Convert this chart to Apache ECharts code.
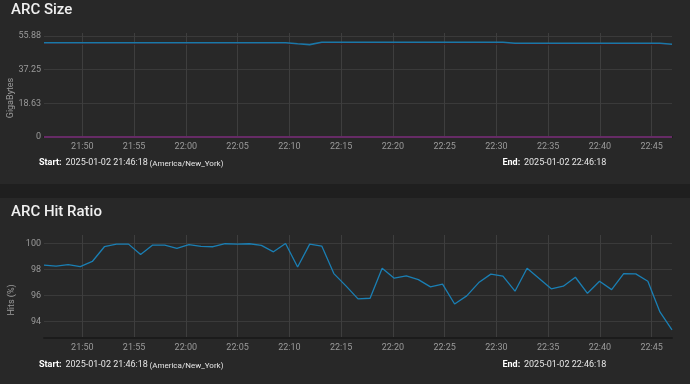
<!DOCTYPE html>
<html><head><meta charset="utf-8">
<script src="https://cdn.jsdelivr.net/npm/echarts@6/dist/echarts.min.js"></script>
<style>html,body{margin:0;padding:0;background:#1f1f1f;}#c{width:690px;height:384px;}</style>
</head><body><div id="c"></div>
<script>
// ---- data ----
const startTime = new Date(2025, 0, 2, 21, 46, 18).getTime();
const stepMs = 70000; // sample spacing
const hitRatio = [98.34,98.26,98.38,98.23,98.62,99.75,99.95,99.95,99.15,99.88,99.88,99.62,99.92,99.77,99.75,99.98,99.95,99.98,
  99.85,99.36,100.0,98.2,99.95,99.8,97.69,96.75,95.75,95.8,98.1,97.34,97.52,97.23,96.67,96.88,95.36,95.98,
  97.0,97.65,97.49,96.34,98.1,97.31,96.52,96.72,97.41,96.18,97.1,96.46,97.69,97.67,97.1,94.75,93.38];
const arcSize = [52.15,52.15,52.15,52.15,52.15,52.15,52.15,52.15,52.15,52.15,52.15,52.15,52.15,52.15,52.15,52.15,52.15,52.15,52.15,52.15,52.15,
  51.6,51.1,52.4,52.4,52.4,52.4,52.4,52.4,52.4,52.4,52.4,52.4,52.4,52.4,52.4,52.4,52.4,52.4,
  51.85,51.85,51.85,51.85,51.85,51.85,51.85,51.85,51.85,51.85,51.85,51.85,51.85,51.3];
const arcTarget = [51.35,51.35,51.35,51.35,51.35,51.35,51.35,51.35,51.35,51.35,51.35,51.35,51.35,51.35,51.35,51.35,51.35,51.35,51.35,51.35,51.35,
  51.35,51.35,51.35,51.35,51.35,51.35,51.35,51.35,51.35,51.35,51.35,51.35,51.35,51.35,51.35,51.35,51.35,51.35,
  51.1,51.1,51.1,51.1,51.1,51.1,51.1,51.1,51.1,51.1,51.1,51.1,51.1,51.1];
const l2Size = [0,0,0,0,0,0,0,0,0,0,0,0,0,0,0,0,0,0,0,0,0,0,0,0,0,0,0,0,0,0,0,0,0,0,0,0,0,0,0,0,0,0,0,0,0,0,0,0,0,0,0,0,0];
const timeTickLabels = ['21:50','21:55','22:00','22:05','22:10','22:15','22:20','22:25','22:30','22:35','22:40','22:45'];
const sizeTicks = [0, 18.63, 37.25, 55.88];
const hitTicks = [94, 96, 98, 100];
const startLabel = '2025-01-02 21:46:18';
const endLabel = '2025-01-02 22:46:18';
const tzLabel = '(America/New_York)';

const times = hitRatio.map((_, i) => startTime + i * stepMs);
const pair = arr => arr.map((v, i) => [times[i], v]);
const tMin = times[0], tMax = times[times.length - 1];
const tickTimes = timeTickLabels.map(s => { const [h, m] = s.split(':').map(Number); return new Date(2025, 0, 2, h, m, 0).getTime(); });

const pad = n => (n < 10 ? '0' : '') + n;
const fmtTime = v => { const d = new Date(v); return pad(d.getHours()) + ':' + pad(d.getMinutes()); };

const F = 'Roboto, "Noto Sans", sans-serif';
const gridLineColor = '#3a3a3a';
const labelColor = '#9a9a9a';

function xAxisCfg(gi) {
  return {
    type: 'value', gridIndex: gi, min: tMin, max: tMax,
    axisLine: { show: true, onZero: false, lineStyle: { color: '#1b1b1b', width: 2 } },
    axisTick: { show: false, customValues: tickTimes },
    axisLabel: { color: labelColor, fontSize: 9, fontFamily: F, margin: 5, formatter: fmtTime, customValues: tickTimes },
    splitLine: { show: true, lineStyle: { color: '#3e3e3e', width: 1 } }
  };
}

const chart = echarts.init(document.getElementById('c'), null, { renderer: 'canvas' });
chart.setOption({
  backgroundColor: '#1f1f1f',
  animation: false,
  graphic: [
    { type: 'rect', shape: { x: 0, y: 0, width: 690, height: 184 }, style: { fill: '#282828' }, z: -10 },
    { type: 'rect', shape: { x: 0, y: 198, width: 690, height: 186 }, style: { fill: '#282828' }, z: -10 },
    { type: 'text', left: 11, top: 3, style: { text: 'ARC Size', fill: '#f0f0f0', font: '500 15px ' + F } },
    { type: 'text', left: 11, top: 205, style: { text: 'ARC Hit Ratio', fill: '#f0f0f0', font: '500 15px ' + F } },
    { type: 'text', x: 11, y: 98, rotation: Math.PI / 2, style: { text: 'GigaBytes', fill: labelColor, font: '9px ' + F, align: 'center', verticalAlign: 'middle' } },
    { type: 'text', x: 12, y: 300, rotation: Math.PI / 2, style: { text: 'Hits (%)', fill: labelColor, font: '9px ' + F, align: 'center', verticalAlign: 'middle' } },
    { type: 'text', x: 39, y: 163, style: { text: 'Start:', fill: '#ffffff', font: 'bold 9px ' + F, verticalAlign: 'middle' } },
    { type: 'text', x: 65.5, y: 163, style: { text: startLabel, fill: '#e6e6e6', font: '9px ' + F, verticalAlign: 'middle' } },
    { type: 'text', x: 149.5, y: 163.5, style: { text: tzLabel, fill: '#e6e6e6', font: '8px ' + F, verticalAlign: 'middle' } },
    { type: 'text', x: 502.5, y: 163, style: { text: 'End:', fill: '#ffffff', font: 'bold 9px ' + F, verticalAlign: 'middle' } },
    { type: 'text', x: 524, y: 163, style: { text: endLabel, fill: '#e6e6e6', font: '9px ' + F, verticalAlign: 'middle' } },
    { type: 'text', x: 39, y: 365, style: { text: 'Start:', fill: '#ffffff', font: 'bold 9px ' + F, verticalAlign: 'middle' } },
    { type: 'text', x: 65.5, y: 365, style: { text: startLabel, fill: '#e6e6e6', font: '9px ' + F, verticalAlign: 'middle' } },
    { type: 'text', x: 149.5, y: 365.5, style: { text: tzLabel, fill: '#e6e6e6', font: '8px ' + F, verticalAlign: 'middle' } },
    { type: 'text', x: 502.5, y: 365, style: { text: 'End:', fill: '#ffffff', font: 'bold 9px ' + F, verticalAlign: 'middle' } },
    { type: 'text', x: 524, y: 365, style: { text: endLabel, fill: '#e6e6e6', font: '9px ' + F, verticalAlign: 'middle' } }
  ],
  grid: [
    { left: 44, right: 18, top: 33, height: 104 },
    { left: 44, right: 18, top: 235, height: 103 }
  ],
  xAxis: [xAxisCfg(0), xAxisCfg(1)],
  yAxis: [
    {
      type: 'value', gridIndex: 0, min: 0, max: 57.54,
      axisLine: { show: false }, axisTick: { show: false, customValues: sizeTicks },
      axisLabel: { color: labelColor, fontSize: 9, fontFamily: F, margin: 3, customValues: sizeTicks,
        formatter: v => (Math.abs(v) < 1e-6 ? '0' : v.toFixed(2)) },
      splitLine: { lineStyle: { color: gridLineColor, width: 1 } }
    },
    {
      type: 'value', gridIndex: 1, min: 92.75, max: 100.65,
      axisLine: { show: false }, axisTick: { show: false, customValues: hitTicks },
      axisLabel: { color: labelColor, fontSize: 9, fontFamily: F, margin: 3, customValues: hitTicks },
      splitLine: { lineStyle: { color: gridLineColor, width: 1 } }
    }
  ],
  series: [
    { type: 'line', xAxisIndex: 0, yAxisIndex: 0, data: pair(arcTarget), showSymbol: false, lineStyle: { color: '#3b1f21', width: 1.2 }, z: 2 },
    { type: 'line', xAxisIndex: 0, yAxisIndex: 0, data: pair(arcSize), showSymbol: false, lineStyle: { color: '#1a78a8', width: 1.6 }, z: 3 },
    { type: 'line', xAxisIndex: 0, yAxisIndex: 0, data: pair(l2Size), showSymbol: false, lineStyle: { color: '#662b66', width: 2 }, z: 4 },
    { type: 'line', xAxisIndex: 1, yAxisIndex: 1, data: pair(hitRatio), showSymbol: false, lineStyle: { color: '#1a7fb4', width: 1.3 }, z: 3 }
  ]
});
</script></body></html>
